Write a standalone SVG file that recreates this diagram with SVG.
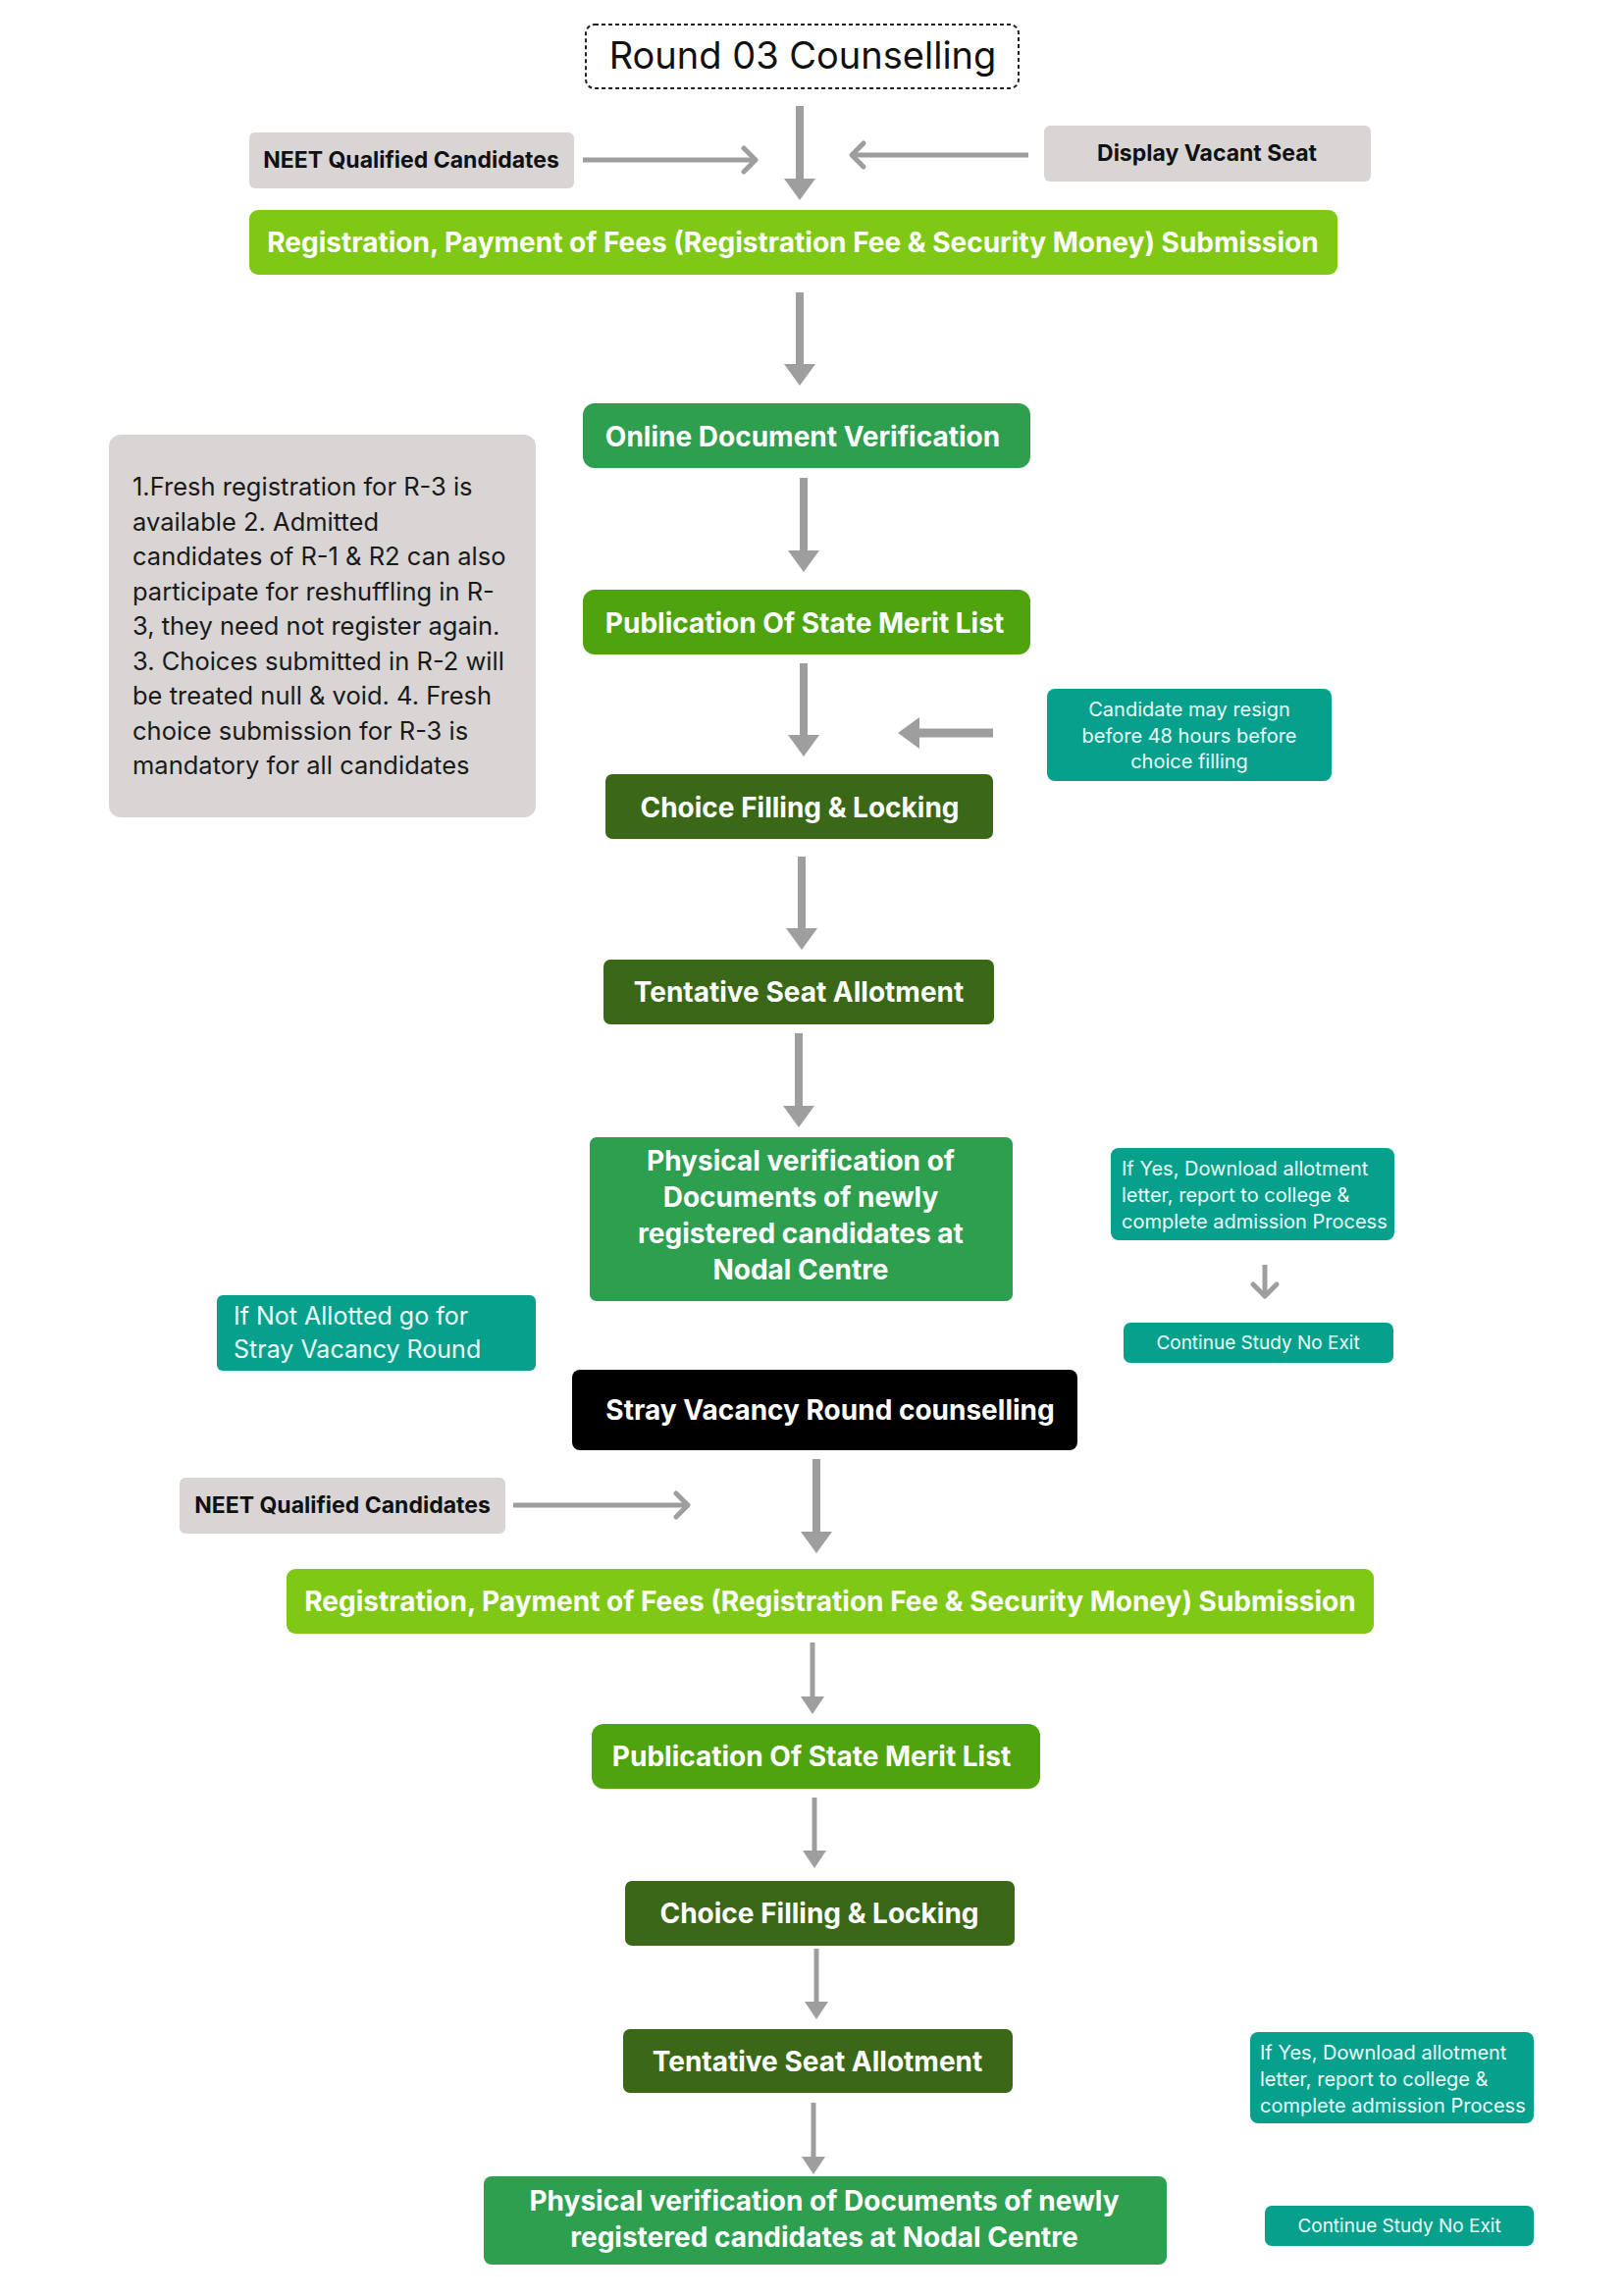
<svg xmlns="http://www.w3.org/2000/svg" width="1655" height="2340" viewBox="0 0 1655 2340">
<defs>
<style>
.bg{fill:#ffffff}
.lime{fill:#7fc815}
.green{fill:#2e9e4f}
.pub{fill:#4fa30e}
.dark{fill:#3a6816}
.teal{fill:#07a08d}
.gray{fill:#d9d5d5}
.black{fill:#000000}
.tw{font-family:Inter,"Noto Sans","Liberation Sans",sans-serif;font-weight:700;font-size:28px;fill:#ffffff;text-anchor:middle}
.tb{font-family:Inter,"Noto Sans","Liberation Sans",sans-serif;font-weight:700;font-size:23px;fill:#111111;text-anchor:middle}
.tn{font-family:Inter,"Noto Sans","Liberation Sans",sans-serif;font-weight:400;font-size:25.5px;fill:#1a1a1a}
.ts{font-family:Inter,"Noto Sans","Liberation Sans",sans-serif;font-weight:400;font-size:20px;fill:#eafff9}
.tc{font-family:Inter,"Noto Sans","Liberation Sans",sans-serif;font-weight:400;font-size:19px;fill:#eafff9;text-anchor:middle}
.tsc{text-anchor:middle}
.tl{font-family:Inter,"Noto Sans","Liberation Sans",sans-serif;font-weight:400;font-size:25px;fill:#eafff9}
.conn line{stroke:#9e9e9e;fill:none}
.big{stroke-width:8}
.med{stroke-width:5}
.thin{stroke-width:5}
</style>
<marker id="ahBig" markerUnits="userSpaceOnUse" viewBox="0 0 22 32" markerWidth="22" markerHeight="32" refX="0" refY="16" orient="auto">
<path d="M0,0 L22,16 L0,32 Z" fill="#9e9e9e"/>
</marker>
<marker id="ahSmall" markerUnits="userSpaceOnUse" viewBox="0 0 18 24" markerWidth="18" markerHeight="24" refX="0" refY="12" orient="auto">
<path d="M0,0 L18,12 L0,24 Z" fill="#9e9e9e"/>
</marker>
<marker id="chev" markerUnits="userSpaceOnUse" viewBox="-4 -4 22 32" markerWidth="22" markerHeight="32" refX="12" refY="12" orient="auto" overflow="visible">
<path d="M0,0 L12,12 L0,24" fill="none" stroke="#9e9e9e" stroke-width="5" stroke-linecap="round" stroke-linejoin="round"/>
</marker>
</defs>
<rect class="bg" x="0" y="0" width="1655" height="2340"/>

<g id="connectors" class="conn">
<line class="big" x1="815" y1="108" x2="815" y2="182" marker-end="url(#ahBig)"/>
<line class="med" x1="594" y1="163" x2="770" y2="163" marker-end="url(#chev)"/>
<line class="med" x1="1048" y1="158" x2="868" y2="158" marker-end="url(#chev)"/>
<line class="big" x1="815" y1="298" x2="815" y2="371" marker-end="url(#ahBig)"/>
<line class="big" x1="819" y1="487" x2="819" y2="561" marker-end="url(#ahBig)"/>
<line class="big" x1="819" y1="676" x2="819" y2="749" marker-end="url(#ahBig)"/>
<line stroke-width="9" x1="1012" y1="747" x2="937" y2="747" marker-end="url(#ahBig)"/>
<line class="big" x1="817" y1="873" x2="817" y2="946" marker-end="url(#ahBig)"/>
<line class="big" x1="814" y1="1053" x2="814" y2="1127" marker-end="url(#ahBig)"/>
<line class="med" x1="1289" y1="1289" x2="1289" y2="1321" marker-end="url(#chev)"/>
<line class="big" x1="832" y1="1487" x2="832" y2="1561" marker-end="url(#ahBig)"/>
<line class="med" x1="523" y1="1534" x2="701" y2="1534" marker-end="url(#chev)"/>
<line class="thin" x1="828" y1="1674" x2="828" y2="1729" marker-end="url(#ahSmall)"/>
<line class="thin" x1="830" y1="1832" x2="830" y2="1886" marker-end="url(#ahSmall)"/>
<line class="thin" x1="832" y1="1986" x2="832" y2="2040" marker-end="url(#ahSmall)"/>
<line class="thin" x1="829" y1="2143" x2="829" y2="2198" marker-end="url(#ahSmall)"/>
</g>

<g id="title">
<rect x="597" y="25" width="441" height="65" rx="9" fill="#ffffff" stroke="#222222" stroke-width="2" stroke-dasharray="4 3"/>
<text x="818" y="70" font-family="Inter,'Noto Sans','Liberation Sans',sans-serif" font-size="38" fill="#111111" text-anchor="middle">Round 03 Counselling</text>
</g>

<g id="neet1">
<rect class="gray" x="254" y="135" width="331" height="57" rx="6"/>
<text class="tb" x="419" y="171">NEET Qualified Candidates</text>
</g>

<g id="display-vacant">
<rect class="gray" x="1064" y="128" width="333" height="57" rx="6"/>
<text class="tb" x="1230" y="164">Display Vacant Seat</text>
</g>

<g id="registration1">
<rect class="lime" x="254" y="214" width="1109" height="66" rx="9"/>
<text class="tw" x="808" y="257">Registration, Payment of Fees (Registration Fee &amp; Security Money) Submission</text>
</g>

<g id="online-doc">
<rect class="green" x="594" y="411" width="456" height="66" rx="12"/>
<text class="tw" x="818" y="455">Online Document Verification</text>
</g>

<g id="note">
<rect class="gray" x="111" y="443" width="435" height="390" rx="12"/>
<text class="tn" x="135" y="505">1.Fresh registration for R-3 is</text>
<text class="tn" x="135" y="540.5">available 2. Admitted</text>
<text class="tn" x="135" y="576">candidates of R-1 &amp; R2 can also</text>
<text class="tn" x="135" y="611.5">participate for reshuffling in R-</text>
<text class="tn" x="135" y="647">3, they need not register again.</text>
<text class="tn" x="135" y="682.5">3. Choices submitted in R-2 will</text>
<text class="tn" x="135" y="718">be treated null &amp; void. 4. Fresh</text>
<text class="tn" x="135" y="753.5">choice submission for R-3 is</text>
<text class="tn" x="135" y="789">mandatory for all candidates</text>
</g>

<g id="publication1">
<rect class="pub" x="594" y="601" width="456" height="66" rx="12"/>
<text class="tw" x="820" y="645">Publication Of State Merit List</text>
</g>

<g id="resign-note">
<rect class="teal" x="1067" y="702" width="290" height="94" rx="8"/>
<text class="ts tsc" x="1212" y="730">Candidate may resign</text>
<text class="ts tsc" x="1212" y="757">before 48 hours before</text>
<text class="ts tsc" x="1212" y="783">choice filling</text>
</g>

<g id="choice1">
<rect class="dark" x="617" y="789" width="395" height="66" rx="7"/>
<text class="tw" x="815" y="833">Choice Filling &amp; Locking</text>
</g>

<g id="tentative1">
<rect class="dark" x="615" y="978" width="398" height="66" rx="7"/>
<text class="tw" x="814" y="1021">Tentative Seat Allotment</text>
</g>

<g id="physical1">
<rect class="green" x="601" y="1159" width="431" height="167" rx="7"/>
<text class="tw" x="816" y="1193">Physical verification of</text>
<text class="tw" x="816" y="1230">Documents of newly</text>
<text class="tw" x="816" y="1267">registered candidates at</text>
<text class="tw" x="816" y="1304">Nodal Centre</text>
</g>

<g id="ifyes1">
<rect class="teal" x="1132" y="1170" width="289" height="94" rx="8"/>
<text class="ts" x="1143" y="1198">If Yes, Download allotment</text>
<text class="ts" x="1143" y="1225">letter, report to college &amp;</text>
<text class="ts" x="1143" y="1252">complete admission Process</text>
</g>

<g id="continue1">
<rect class="teal" x="1145" y="1348" width="275" height="41" rx="7"/>
<text class="tc" x="1282" y="1375">Continue Study No Exit</text>
</g>

<g id="not-allotted">
<rect class="teal" x="221" y="1320" width="325" height="77" rx="6"/>
<text class="tl" x="238" y="1350">If Not Allotted go for</text>
<text class="tl" x="238" y="1384">Stray Vacancy Round</text>
</g>

<g id="stray">
<rect class="black" x="583" y="1396" width="515" height="82" rx="8"/>
<text class="tw" x="846" y="1447">Stray Vacancy Round counselling</text>
</g>

<g id="neet2">
<rect class="gray" x="183" y="1506" width="332" height="57" rx="6"/>
<text class="tb" x="349" y="1542">NEET Qualified Candidates</text>
</g>

<g id="registration2">
<rect class="lime" x="292" y="1599" width="1108" height="66" rx="9"/>
<text class="tw" x="846" y="1642">Registration, Payment of Fees (Registration Fee &amp; Security Money) Submission</text>
</g>

<g id="publication2">
<rect class="pub" x="603" y="1757" width="457" height="66" rx="12"/>
<text class="tw" x="827" y="1800">Publication Of State Merit List</text>
</g>

<g id="choice2">
<rect class="dark" x="637" y="1917" width="397" height="66" rx="7"/>
<text class="tw" x="835" y="1960">Choice Filling &amp; Locking</text>
</g>

<g id="tentative2">
<rect class="dark" x="635" y="2068" width="397" height="65" rx="7"/>
<text class="tw" x="833" y="2111">Tentative Seat Allotment</text>
</g>

<g id="physical2">
<rect class="green" x="493" y="2218" width="696" height="90" rx="8"/>
<text class="tw" x="840" y="2253">Physical verification of Documents of newly</text>
<text class="tw" x="840" y="2290">registered candidates at Nodal Centre</text>
</g>

<g id="ifyes2">
<rect class="teal" x="1274" y="2071" width="289" height="93" rx="8"/>
<text class="ts" x="1284" y="2099">If Yes, Download allotment</text>
<text class="ts" x="1284" y="2126">letter, report to college &amp;</text>
<text class="ts" x="1284" y="2153">complete admission Process</text>
</g>

<g id="continue2">
<rect class="teal" x="1289" y="2248" width="274" height="41" rx="7"/>
<text class="tc" x="1426" y="2275">Continue Study No Exit</text>
</g>
</svg>
